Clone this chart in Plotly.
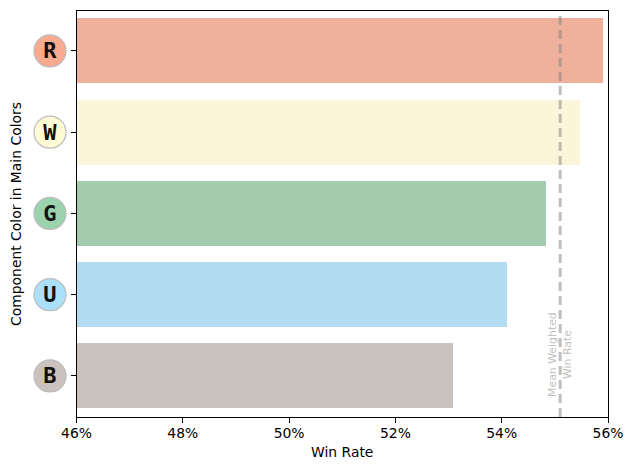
import plotly.graph_objects as go

categories = ["B", "U", "G", "W", "R"]
win_rates = [53.08, 54.09, 54.83, 55.46, 55.89]
bar_colors = ["#C9C3C0", "#B3DCF1", "#A3CCAF", "#FBF6D9", "#EFB09C"]
icon_colors = ["#CBC2BF", "#AAE0FA", "#9BD3AE", "#FFFBD5", "#F9AA8F"]
mean_rate = 55.1
positions = [0, 1, 2, 3, 4]
icon_x = [0.613] * 5
x_ticks = [46, 48, 50, 52, 54, 56]
x_labels = ["46%", "48%", "50%", "52%", "54%", "56%"]
FONT = "DejaVu Sans"
Y_RANGE = [-0.506, 4.491]
LETTER_RANGE = [-0.481, 4.516]
SPLIT = 68.5 / 600

fig = go.Figure()
fig.add_bar(x=win_rates, y=positions, base=0, orientation="h", width=0.8,
            marker=dict(color=bar_colors, line_width=0), hoverinfo="skip")
fig.add_scatter(x=[mean_rate, mean_rate], y=Y_RANGE, mode="lines",
                line=dict(color="rgba(128,128,128,0.5)", width=3, dash="9px,5px"),
                hoverinfo="skip")
fig.add_scatter(x=icon_x, y=positions, xaxis="x2", yaxis="y2", mode="markers",
                marker=dict(size=32, color=icon_colors, line=dict(color="#BBBBBB", width=1.2)),
                hoverinfo="skip")
fig.add_scatter(x=icon_x, y=positions, xaxis="x2", yaxis="y3", mode="text", text=categories,
                textposition="middle center",
                textfont=dict(family="DejaVu Sans Mono", size=22, color="#111111", weight="bold"),
                hoverinfo="skip")
fig.add_annotation(x=mean_rate, y=0.26, xanchor="center", yanchor="middle", showarrow=False,
                   text="Mean Weighted<br>Win Rate", textangle=-90,
                   font=dict(family=FONT, size=10.9, color="rgba(128,128,128,0.5)"))

fig.update_layout(
    width=625, height=462, autosize=False, showlegend=False, bargap=0,
    margin=dict(l=0, r=25, t=2.5, b=52.5),
    plot_bgcolor="white", paper_bgcolor="white",
    font=dict(family=FONT, size=13.9, color="black"),
    xaxis=dict(domain=[SPLIT, 1], range=[46, 56], tickvals=x_ticks, ticktext=x_labels, ticks="outside",
               ticklen=5, tickwidth=1, tickcolor="black", showline=True, linecolor="black",
               linewidth=1, mirror=True, showgrid=False, zeroline=False, automargin=False,
               ticklabelstandoff=-2, tickfont=dict(size=13.9, color="black"),
               title=dict(text="Win Rate", font=dict(size=13.9, color="black"), standoff=7)),
    yaxis=dict(range=Y_RANGE, tickvals=positions, ticktext=[" "] * 5, ticks="outside",
               ticklen=5, tickwidth=1, tickcolor="black", showline=True, linecolor="black",
               linewidth=1, mirror=True, showgrid=False, zeroline=False, automargin=False,
               title=dict(text="Component Color in Main Colors", font=dict(size=13.9, color="black"), standoff=38)),
    xaxis2=dict(domain=[0, SPLIT], range=[0, 1], visible=False, anchor="y2"),
    yaxis2=dict(range=Y_RANGE, visible=False, anchor="x2"),
    yaxis3=dict(range=LETTER_RANGE, visible=False, anchor="x2", overlaying="y2"),
)
fig.write_html("out.html")
